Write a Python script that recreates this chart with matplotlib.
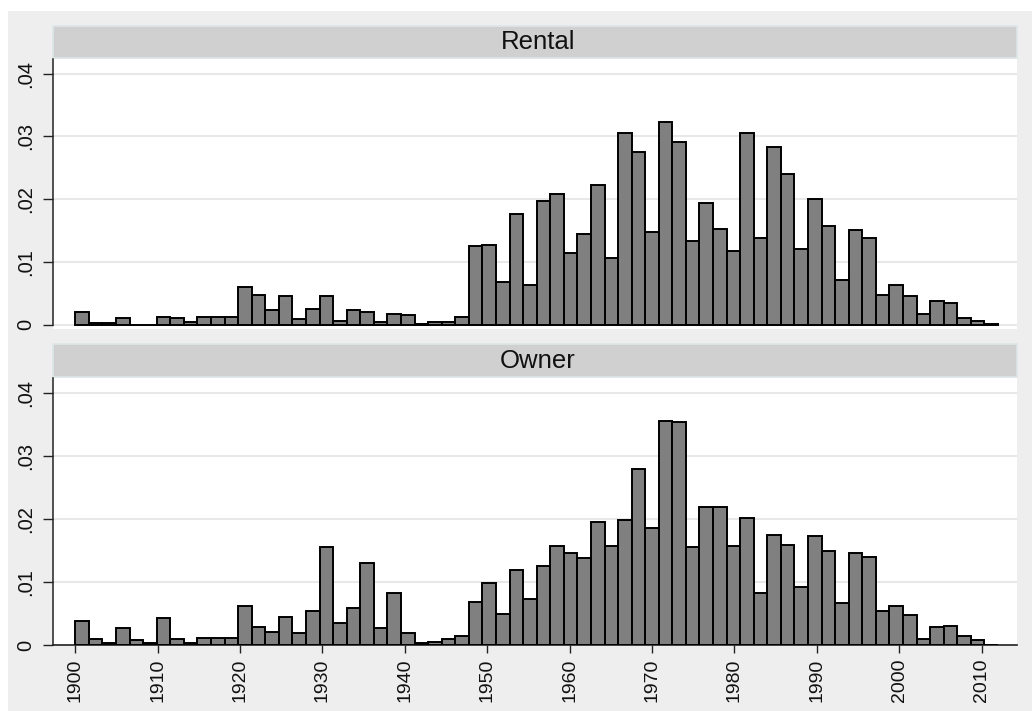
import matplotlib
matplotlib.use("Agg")
import matplotlib.pyplot as plt
from matplotlib.patches import Rectangle
import numpy as np

# histogram of year built, by tenure (68 bins from 1900 to 2012)
bin_start = 1900
bin_end = 2012
n_bins = 68

rental_density = [
    0.0020, 0.0003, 0.0003, 0.0011, 0.0000, 0.0000, 0.0013, 0.0011, 0.0004, 0.0013,
    0.0013, 0.0013, 0.0061, 0.0048, 0.0023, 0.0046, 0.0009, 0.0026, 0.0046, 0.0006,
    0.0023, 0.0020, 0.0005, 0.0018, 0.0015, 0.0002, 0.0005, 0.0005, 0.0013, 0.0126,
    0.0128, 0.0069, 0.0177, 0.0063, 0.0197, 0.0209, 0.0114, 0.0145, 0.0222, 0.0106,
    0.0305, 0.0276, 0.0148, 0.0323, 0.0292, 0.0133, 0.0194, 0.0153, 0.0118, 0.0305,
    0.0138, 0.0284, 0.0241, 0.0121, 0.0201, 0.0158, 0.0071, 0.0151, 0.0138, 0.0047,
    0.0064, 0.0046, 0.0018, 0.0038, 0.0035, 0.0011, 0.0006, 0.0001,
]
owner_density = [
    0.0038, 0.0010, 0.0004, 0.0027, 0.0008, 0.0003, 0.0044, 0.0010, 0.0004, 0.0012,
    0.0011, 0.0011, 0.0063, 0.0029, 0.0021, 0.0045, 0.0019, 0.0054, 0.0156, 0.0035,
    0.0059, 0.0130, 0.0027, 0.0083, 0.0019, 0.0003, 0.0005, 0.0010, 0.0014, 0.0069,
    0.0098, 0.0049, 0.0119, 0.0073, 0.0125, 0.0158, 0.0146, 0.0138, 0.0196, 0.0158,
    0.0199, 0.0279, 0.0186, 0.0355, 0.0354, 0.0155, 0.0219, 0.0219, 0.0158, 0.0202,
    0.0083, 0.0175, 0.0159, 0.0092, 0.0173, 0.0149, 0.0067, 0.0146, 0.0140, 0.0055,
    0.0063, 0.0048, 0.0010, 0.0029, 0.0030, 0.0015, 0.0008, 0.0001,
]
panels = ["Rental", "Owner"]
y_ticks = [0, 0.01, 0.02, 0.03, 0.04]
y_labels = ["0", ".01", ".02", ".03", ".04"]
x_ticks = [1900, 1910, 1920, 1930, 1940, 1950, 1960, 1970, 1980, 1990, 2000, 2010]

plt.rcParams['font.family'] = ['Liberation Sans', 'DejaVu Sans']

W, H = 1032, 711
fig = plt.figure(figsize=(W / 100, H / 100), dpi=100, facecolor="white")

def box(x0, y0, x1, y1):
    # pixel box (top-left origin) -> figure fraction [l, b, w, h]
    return [x0 / W, 1 - y1 / H, (x1 - x0) / W, (y1 - y0) / H]

# graph region background
l, b, w, h = box(8, 11, 1032, 711)
fig.patches.append(Rectangle((l, b), w, h, transform=fig.transFigure,
                             facecolor="#eeeeee", edgecolor="none", zorder=-2))

edges = np.linspace(bin_start, bin_end, n_bins + 1)
bw = edges[1] - edges[0]
xlim = (1897.3, 2014.3)
ytop = 0.04 + 0.01 * (14.7 / 62.9)

layout = [
    # header box, plot box, ylim bottom
    ((53, 26, 1017, 58), (53, 59, 1017, 329), -0.00065),
    ((53, 344, 1017, 377), (53, 378, 1017, 645.3), 0.0),
]
series = [rental_density, owner_density]

for i, (name, vals) in enumerate(zip(panels, series)):
    hdr, plot, ybot = layout[i]

    l, b, w, h = box(*hdr)
    fig.patches.append(Rectangle((l, b), w, h, transform=fig.transFigure,
                                 facecolor="#d0d0d0", edgecolor="#dde6e8",
                                 lw=1.2, zorder=-1))
    fig.text(l + w / 2 + 3 / W, b + h / 2, name, ha="center", va="center",
             fontsize=18.5, color="#111111")

    ax = fig.add_axes(box(*plot))
    ax.set_zorder(2)
    ax.set_facecolor("white")
    ax.bar(edges[:-1], vals, width=bw, align="edge", color="#808080",
           edgecolor="black", linewidth=1.4, zorder=3)

    ax.set_xlim(*xlim)
    ax.set_ylim(ybot, ytop)

    for yv in y_ticks:
        ax.axhline(yv, color="#e8e8e8", lw=1.5, zorder=1)

    ax.set_yticks(y_ticks)
    ax.set_yticklabels(y_labels, rotation=90, va="center")
    ax.tick_params(axis="y", length=7.2, width=1.0, pad=5.5, labelsize=14.5,
                   color="#222222", labelcolor="#111111")

    for s in ["top", "right"]:
        ax.spines[s].set_visible(False)
    ax.spines["left"].set_bounds(0, ytop)
    ax.spines["left"].set_linewidth(1.1)
    ax.spines["left"].set_color("#222222")

    if i == 0:
        ax.spines["bottom"].set_visible(False)
        ax.set_xticks([])
    else:
        ax.spines["bottom"].set_linewidth(1.2)
        ax.spines["bottom"].set_color("#222222")
        ax.set_xticks(x_ticks)
        ax.set_xticklabels([str(t) for t in x_ticks], rotation=90)
        ax.tick_params(axis="x", length=5.8, width=1.0, pad=4.0, labelsize=14,
                       color="#222222", labelcolor="#111111")

fig.savefig("out.png", dpi=100, facecolor=fig.get_facecolor())
